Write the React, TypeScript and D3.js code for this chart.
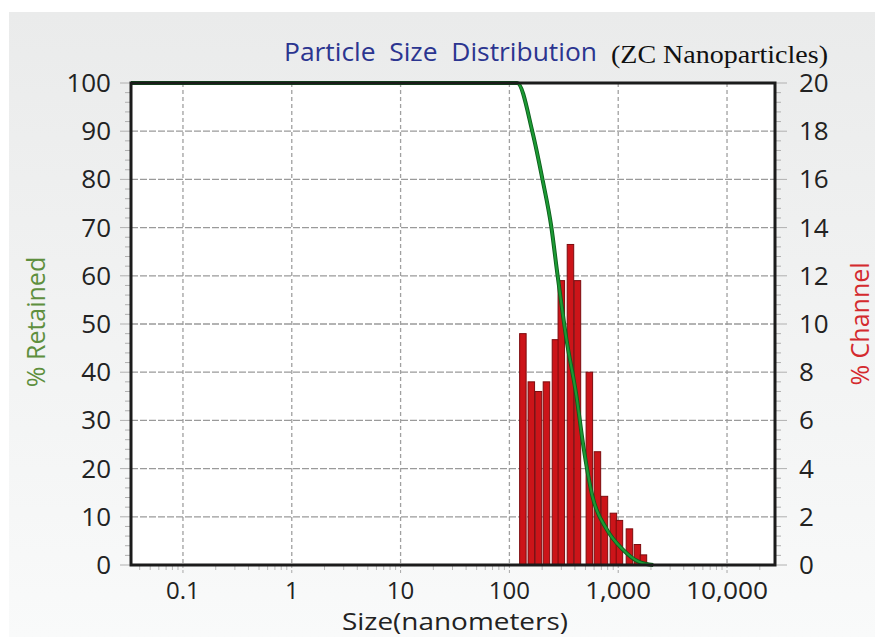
import React from "react";
import * as d3 from "d3";

// channel bars (% Channel, right axis)
const barSizes = [133, 159, 185, 219, 265, 300, 364, 422, 543, 644, 747, 903, 1026, 1268, 1500, 1705];
const barValues = [9.6, 7.6, 7.2, 7.6, 9.35, 11.8, 13.3, 11.8, 8.0, 4.7, 2.85, 2.15, 1.85, 1.5, 0.85, 0.42];

// cumulative % retained (left axis)
const retSizes = [0.0333, 118, 163, 201, 243, 276, 334, 413, 478, 579, 780, 1092, 1567, 2100];
const retValues = [100, 100, 89.8, 80.1, 70.1, 60.4, 46.9, 35.1, 24.7, 14.3, 7.5, 3.3, 0.6, 0];

const xTicks = [0.1, 1, 10, 100, 1000, 10000];
const xTickLabels = ["0.1", "1", "10", "100", "1,000", "10,000"];
const leftTicks = [0, 10, 20, 30, 40, 50, 60, 70, 80, 90, 100];
const rightTicks = [0, 2, 4, 6, 8, 10, 12, 14, 16, 18, 20];

const W = 875;
const H = 637;
const box = { left: 131, right: 775, top: 83, bottom: 565 };
const font = "'Open Sans', sans-serif";

export default function App() {
  const x = d3.scaleLog().domain([0.0333, 27600]).range([box.left, box.right]);
  const yL = d3.scaleLinear().domain([0, 100]).range([box.bottom, box.top]);
  const yR = d3.scaleLinear().domain([0, 20]).range([box.bottom, box.top]);

  const line = d3
    .line<number>()
    .x((_, i) => x(retSizes[i]))
    .y((d) => yL(d))
    .curve(d3.curveMonotoneX);

  const minorX: number[] = [];
  for (let p = -2; p <= 4; p++) {
    for (let m = 2; m <= 9; m++) {
      const v = m * Math.pow(10, p);
      if (v > 0.0333 && v < 27600) minorX.push(v);
    }
  }
  const minorY = d3.range(0, 100.01, 2);
  const barW = 6.5;

  return (
    <svg width={W} height={H} style={{ position: "absolute", left: 0, top: 0 }}>
      <defs>
        <linearGradient id="bg" x1="0" y1="0" x2="0" y2="1">
          <stop offset="0" stopColor="#eaebeb" />
          <stop offset="1" stopColor="#f9fafa" />
        </linearGradient>
      </defs>
      <rect width={W} height={H} fill="#fff" />
      <rect x={9} y={12} width={W - 9} height={H - 12} fill="url(#bg)" />
      <rect x={box.left} y={box.top} width={box.right - box.left} height={box.bottom - box.top} fill="#fff" />

      {/* grid */}
      {xTicks.map((t) => (
        <line key={"gx" + t} x1={x(t)} x2={x(t)} y1={box.top} y2={box.bottom} stroke="#a0a0a0" strokeWidth={1.3} strokeDasharray="4 3" />
      ))}
      {leftTicks.slice(1, -1).map((t) => (
        <line key={"gy" + t} x1={box.left} x2={box.right} y1={yL(t)} y2={yL(t)} stroke="#9a9a9a" strokeWidth={1.3} strokeDasharray="7 2" />
      ))}

      {/* ticks */}
      {minorY.map((t) => (
        <g key={"ty" + t} stroke="#b0b0b0" strokeWidth={1}>
          <line x1={t % 10 === 0 ? box.left - 11 : box.left - 6} x2={box.left} y1={yL(t)} y2={yL(t)} />
          <line x1={box.right} x2={t % 10 === 0 ? box.right + 12 : box.right + 6} y1={yL(t)} y2={yL(t)} />
        </g>
      ))}
      {minorX.map((t) => (
        <line key={"mx" + t} x1={x(t)} x2={x(t)} y1={box.bottom} y2={box.bottom + 5} stroke="#b8b8b8" />
      ))}
      {xTicks.map((t) => (
        <line key={"tx" + t} x1={x(t)} x2={x(t)} y1={box.bottom} y2={box.bottom + 9} stroke="#a8a8a8" strokeDasharray="3 2" />
      ))}

      {/* bars */}
      {barSizes.map((s, i) => (
        <rect
          key={"b" + i}
          x={x(s) - barW / 2}
          y={yR(barValues[i])}
          width={barW}
          height={box.bottom - yR(barValues[i])}
          fill="#cc1419"
          stroke="#7d0b0e"
          strokeWidth={1}
        />
      ))}

      {/* retained curve */}
      <path d={line(retValues) as string} fill="none" stroke="#0d5e1c" strokeWidth={4} />
      <path d={line(retValues) as string} fill="none" stroke="#1c9a34" strokeWidth={2.2} />

      {/* frame */}
      <rect x={box.left} y={box.top} width={box.right - box.left} height={box.bottom - box.top} fill="none" stroke="#1b1b1b" strokeWidth={3} />

      {/* tick labels */}
      <g fontFamily={font} fontSize={26} fill="#222">
        {leftTicks.map((t) => (
          <text key={"ll" + t} x={111} y={yL(t) + 9} textAnchor="end">{t}</text>
        ))}
        {rightTicks.map((t) => (
          <text key={"rl" + t} x={799} y={yR(t) + 9} textAnchor="start">{t}</text>
        ))}
      </g>
      <g fontFamily={font} fontSize={24} fill="#222">
        {xTicks.map((t, i) => (
          <text key={"xl" + t} x={x(t)} y={599} textAnchor="middle" textLength={t >= 1000 ? (t === 1000 ? 66 : 82) : undefined}
            lengthAdjust="spacingAndGlyphs">{xTickLabels[i]}</text>
        ))}
      </g>

      {/* titles */}
      <text x={284} y={61} fontFamily={font} fontSize={25} fill="#2b3590" style={{ whiteSpace: "pre" }}
        textLength={313} lengthAdjust="spacingAndGlyphs">
        {"Particle  Size  Distribution"}
      </text>
      <text x={611} y={63} fontFamily="'Liberation Serif', 'Times New Roman', serif" fontSize={26} fill="#111"
        textLength={217} lengthAdjust="spacingAndGlyphs">
        (ZC Nanoparticles)
      </text>
      <text x={455} y={630} fontFamily={font} fontSize={23} fill="#222" textAnchor="middle"
        textLength={226} lengthAdjust="spacingAndGlyphs">
        Size(nanometers)
      </text>
      <text transform="translate(45,322) rotate(-90)" fontFamily={font} fontSize={25} fill="#5e8f3e" textAnchor="middle">
        % Retained
      </text>
      <text transform="translate(869,324) rotate(-90)" fontFamily={font} fontSize={25} fill="#d42a2e" textAnchor="middle">
        % Channel
      </text>
    </svg>
  );
}
